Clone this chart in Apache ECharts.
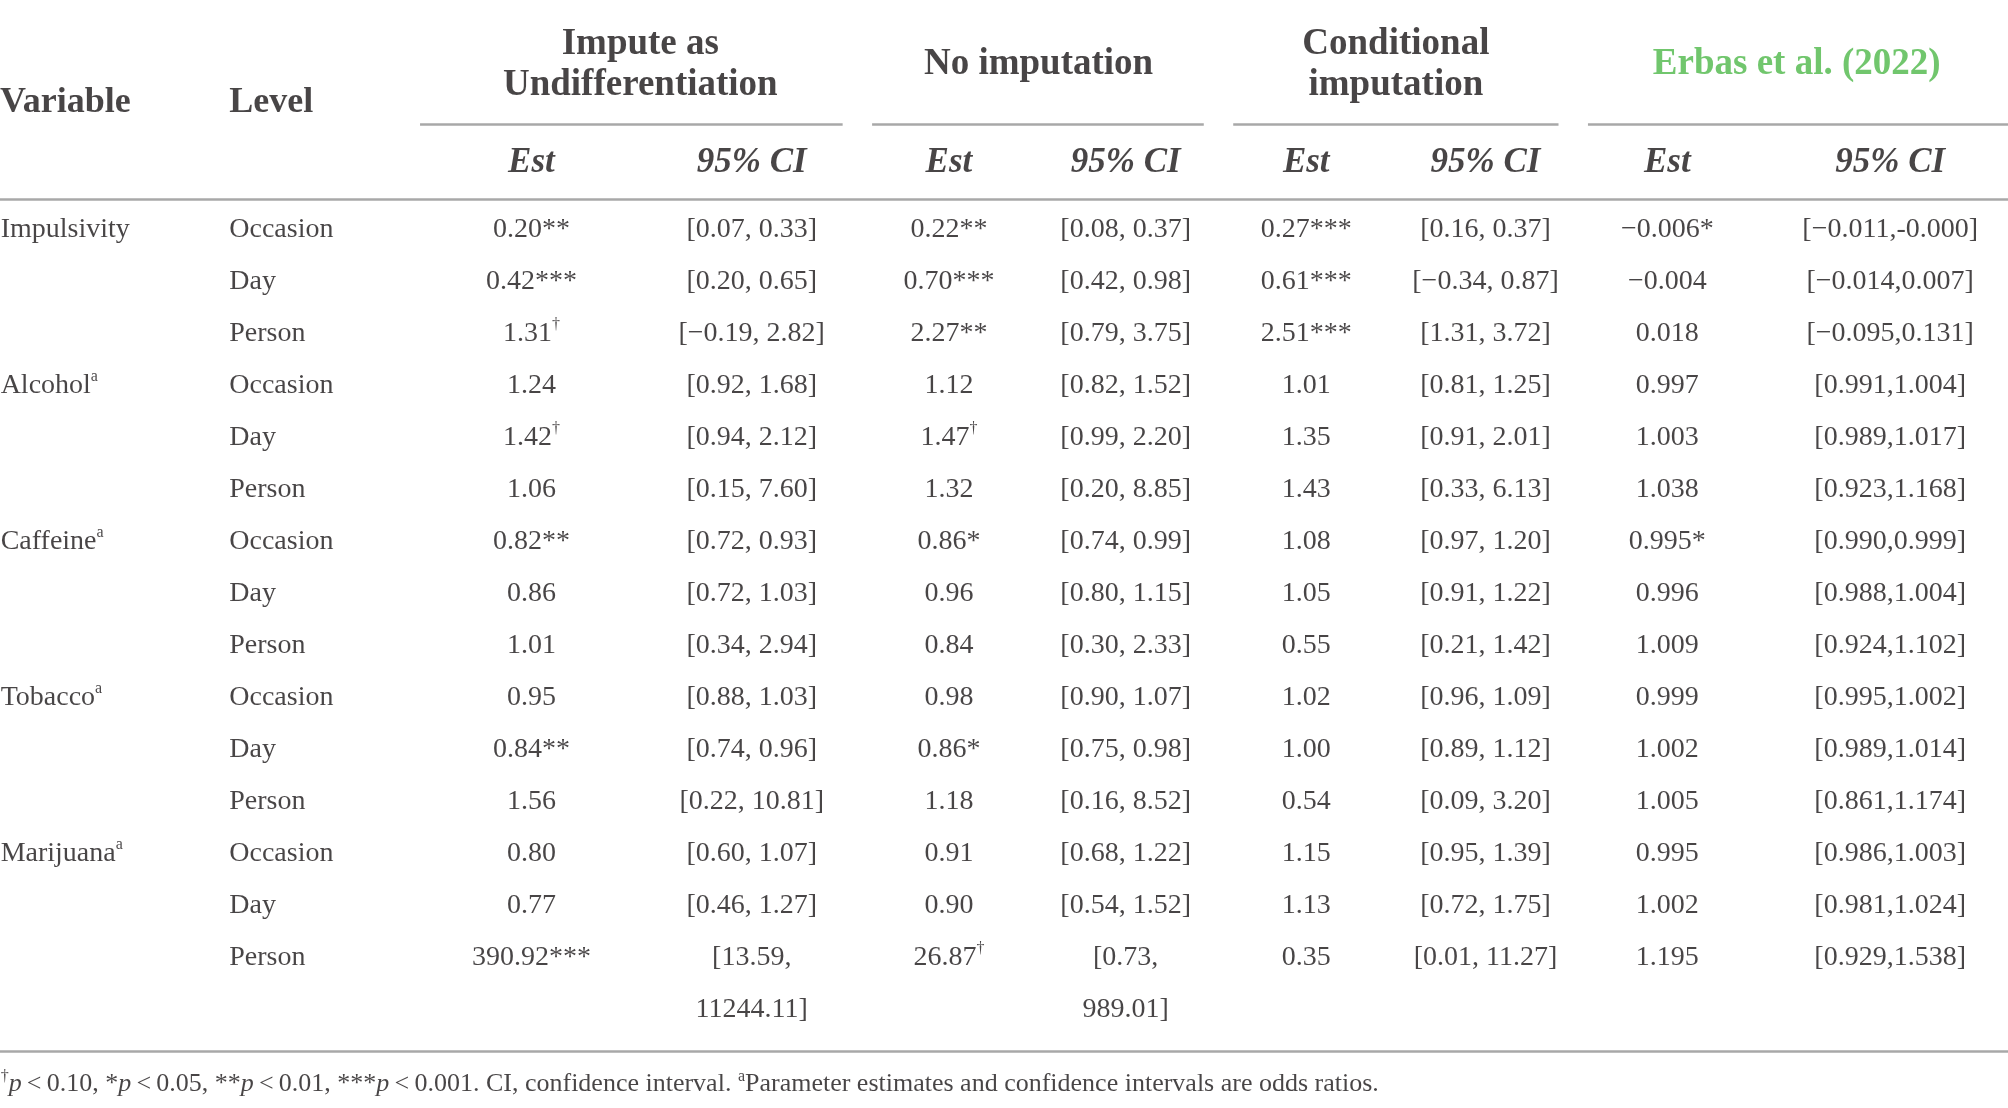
<!DOCTYPE html>
<html lang="en" style="height: 100%">
<head>
  <meta charset="utf-8">
</head>
<body style="height: 100%; margin: 0; background: #ffffff">
  <div id="container" style="height: 100%"></div>
  <script type="text/javascript" src="https://fastly.jsdelivr.net/npm/echarts@6/dist/echarts.min.js"></script>
  <script type="text/javascript">
    // table content
    var variables = ['Impulsivity', 'Alcohol^a', 'Caffeine^a', 'Tobacco^a', 'Marijuana^a'];
    var levels = ['Occasion', 'Day', 'Person'];
    var groups = ['Impute as\nUndifferentiation', 'No imputation', 'Conditional\nimputation', 'Erbas et al. (2022)'];
    var subHeads = ['Est', '95% CI'];

    var imputeEst = ['0.20**', '0.42***', '1.31†', '1.24', '1.42†', '1.06', '0.82**', '0.86', '1.01',
      '0.95', '0.84**', '1.56', '0.80', '0.77', '390.92***'];
    var imputeCI = ['[0.07, 0.33]', '[0.20, 0.65]', '[−0.19, 2.82]', '[0.92, 1.68]', '[0.94, 2.12]', '[0.15, 7.60]',
      '[0.72, 0.93]', '[0.72, 1.03]', '[0.34, 2.94]', '[0.88, 1.03]', '[0.74, 0.96]', '[0.22, 10.81]',
      '[0.60, 1.07]', '[0.46, 1.27]', '[13.59,\n11244.11]'];
    var noImpEst = ['0.22**', '0.70***', '2.27**', '1.12', '1.47†', '1.32', '0.86*', '0.96', '0.84',
      '0.98', '0.86*', '1.18', '0.91', '0.90', '26.87†'];
    var noImpCI = ['[0.08, 0.37]', '[0.42, 0.98]', '[0.79, 3.75]', '[0.82, 1.52]', '[0.99, 2.20]', '[0.20, 8.85]',
      '[0.74, 0.99]', '[0.80, 1.15]', '[0.30, 2.33]', '[0.90, 1.07]', '[0.75, 0.98]', '[0.16, 8.52]',
      '[0.68, 1.22]', '[0.54, 1.52]', '[0.73,\n989.01]'];
    var condEst = ['0.27***', '0.61***', '2.51***', '1.01', '1.35', '1.43', '1.08', '1.05', '0.55',
      '1.02', '1.00', '0.54', '1.15', '1.13', '0.35'];
    var condCI = ['[0.16, 0.37]', '[−0.34, 0.87]', '[1.31, 3.72]', '[0.81, 1.25]', '[0.91, 2.01]', '[0.33, 6.13]',
      '[0.97, 1.20]', '[0.91, 1.22]', '[0.21, 1.42]', '[0.96, 1.09]', '[0.89, 1.12]', '[0.09, 3.20]',
      '[0.95, 1.39]', '[0.72, 1.75]', '[0.01, 11.27]'];
    var erbasEst = ['−0.006*', '−0.004', '0.018', '0.997', '1.003', '1.038', '0.995*', '0.996', '1.009',
      '0.999', '1.002', '1.005', '0.995', '1.002', '1.195'];
    var erbasCI = ['[−0.011,-0.000]', '[−0.014,0.007]', '[−0.095,0.131]', '[0.991,1.004]', '[0.989,1.017]',
      '[0.923,1.168]', '[0.990,0.999]', '[0.988,1.004]', '[0.924,1.102]', '[0.995,1.002]', '[0.989,1.014]',
      '[0.861,1.174]', '[0.986,1.003]', '[0.981,1.024]', '[0.929,1.538]'];
    var footnote = '{s|†}{i|p}\u2009<\u20090.10, *{i|p}\u2009<\u20090.05, **{i|p}\u2009<\u20090.01, ***{i|p}\u2009<\u20090.001. ' +
      'CI, confidence interval. {s|a}Parameter estimates and confidence intervals are odds ratios.';

    // layout: x in page units (0..1568), y in row steps (row 0 = first data row)
    var colX = [415, 587, 741, 879, 1020, 1160, 1302, 1476];
    var groupX = [500, 811, 1090, 1403];
    var ruleSpans = [[328, 658], [681, 940], [963, 1217], [1240, 1568]];
    var ink = '#1a1718';
    var green = '#4db848';
    var ruleColor = '#a8a8a8';
    var serif = '"Liberation Serif", "DejaVu Serif", serif';

    var dom = document.getElementById('container');
    var myChart = echarts.init(dom, null, { renderer: 'canvas' });

    function sup(t) {
      return t.replace(/†/g, '{s|†}').replace(/\^a/g, '{s|a}');
    }

    var cells = [];
    function cell(x, y, text, label) {
      cells.push({ value: [x, y], txt: text, label: label || {} });
    }
    function multi(x, y, text, label) {
      text.split('\n').forEach(function (line, k) { cell(x, y + k, sup(line), label); });
    }

    var head = { fontSize: 37, fontWeight: 'bold', lineHeight: 41 };
    var sub = { fontSize: 35, fontWeight: 'bold', fontStyle: 'italic', lineHeight: 41 };
    var left = { align: 'left' };

    // headers
    groups.forEach(function (g, k) {
      cell(groupX[k], -3.174, g, Object.assign({}, head, k === 3 ? { color: green } : {}));
    });
    cell(0, -2.436, 'Variable', { align: 'left', fontSize: 36, fontWeight: 'bold' });
    cell(179, -2.436, 'Level', { align: 'left', fontSize: 36, fontWeight: 'bold' });
    colX.forEach(function (x, k) {
      cell(x, -1.28, subHeads[k % 2], sub);
    });

    // body
    var cols = [imputeEst, imputeCI, noImpEst, noImpCI, condEst, condCI, erbasEst, erbasCI];
    variables.forEach(function (v, i) {
      cell(0.5, i * 3, sup(v), left);
      levels.forEach(function (l, j) {
        var r = i * 3 + j;
        cell(179, r, l, left);
        cols.forEach(function (arr, c) { multi(colX[c], r, arr[r]); });
      });
    });
    cell(0.5, 16.44, footnote, { align: 'left', fontSize: 26, lineHeight: 30 });

    var rules = ruleSpans.map(function (s) { return { coords: [[s[0], -1.968], [s[1], -1.968]] }; });
    rules.push({ coords: [[0, -0.517], [1568, -0.517]] });
    rules.push({ coords: [[0, 15.87], [1568, 15.87]] });

    var option = {
      animation: false,
      backgroundColor: '#ffffff',
      grid: { left: 0, right: 0, top: 0, bottom: 0 },
      xAxis: { type: 'value', min: 0, max: 1568, show: false },
      yAxis: { type: 'value', min: -4.356, max: 16.954, inverse: true, show: false },
      series: [
        {
          type: 'lines',
          coordinateSystem: 'cartesian2d',
          silent: true,
          lineStyle: { color: ruleColor, width: 2.5, opacity: 1 },
          data: rules
        },
        {
          type: 'scatter',
          symbolSize: 1,
          clip: false,
          silent: true,
          itemStyle: { color: 'transparent' },
          label: {
            show: true,
            position: 'inside',
            offset: [0, 3],
            formatter: function (p) { return p.data.txt; },
            color: ink,
            fontFamily: serif,
            fontSize: 28,
            lineHeight: 34,
            rich: {
              s: { fontSize: 16, lineHeight: 14, verticalAlign: 'top', fontFamily: serif, color: ink },
              i: { fontStyle: 'italic', fontSize: 26, fontFamily: serif, color: ink }
            }
          },
          data: cells
        }
      ]
    };

    myChart.setOption(option);
    window.addEventListener('resize', myChart.resize);
  </script>
</body>
</html>
